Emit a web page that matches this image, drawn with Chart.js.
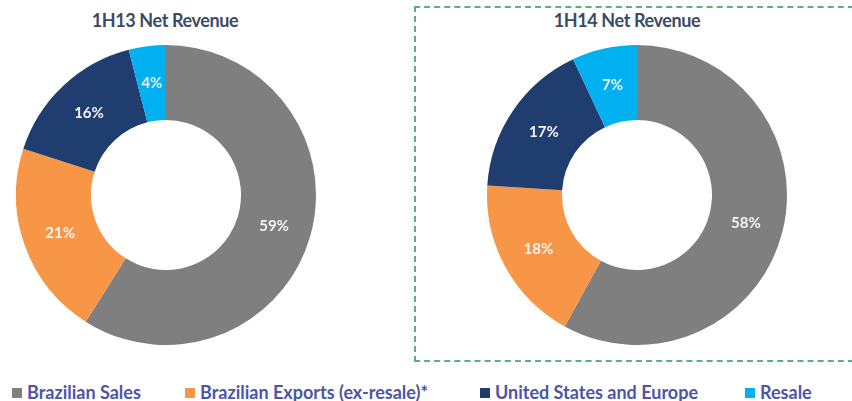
<!DOCTYPE html>
<html>
<head>
<meta charset="utf-8">
<script src="https://cdn.jsdelivr.net/npm/chart.js@4/dist/chart.umd.min.js"></script>
<style>
  html, body { margin:0; padding:0; background:#fff; width:852px; height:401px; overflow:hidden; font-family: Lato, "Open Sans", sans-serif; }
  .wrap { position:absolute; }
  .title { position:absolute; top:9px; font-weight:bold; font-size:18px; line-height:22px; color:#3d4a63; text-align:center; width:300px; letter-spacing:-0.4px; }
  #box { position:absolute; left:414px; top:6px; width:450px; height:356px; border:2px dashed #5cb07e; box-sizing:border-box; }
  #legend { position:absolute; top:382px; left:0; width:852px; height:20px; font-size:18px; font-weight:bold; color:#4c55a6; }
  .item { position:absolute; top:0; white-space:nowrap; line-height:20px; }
  .sw { display:inline-block; width:10px; height:10px; margin-right:5px; vertical-align:1px; }
</style>
</head>
<body>
<div id="box"></div>
<div class="title" id="t1" style="left:15px;"></div>
<div class="title" id="t2" style="left:477px;"></div>
<div class="wrap" style="left:16px; top:45px; width:300px; height:300px;"><canvas id="c1"></canvas></div>
<div class="wrap" style="left:487px; top:45px; width:300px; height:300px;"><canvas id="c2"></canvas></div>
<div id="legend"></div>
<script>
const categories = ["Brazilian Sales", "Brazilian Exports (ex-resale)*", "United States and Europe", "Resale"];
const titles = ["1H13 Net Revenue", "1H14 Net Revenue"];
const values1H13 = [59, 21, 16, 4];
const values1H14 = [58, 18, 17, 7];
const colors = ["#7f7f7f", "#f79646", "#1f3d6e", "#00b0f0"];
const legendX = [12, 185, 480, 745];

document.getElementById('t1').textContent = titles[0];
document.getElementById('t2').textContent = titles[1];

const labelPlugin = {
  id: 'sliceLabels',
  afterDatasetsDraw(chart) {
    const ctx = chart.ctx;
    const meta = chart.getDatasetMeta(0);
    const data = chart.data.datasets[0].data;
    ctx.save();
    ctx.fillStyle = '#f4f4f4';
    ctx.font = 'bold 15px Lato, "Open Sans", sans-serif';
    ctx.textAlign = 'center';
    ctx.textBaseline = 'middle';
    meta.data.forEach((arc, i) => {
      const p = arc.getCenterPoint();
      ctx.fillText(data[i] + '%', p.x, p.y);
    });
    ctx.restore();
  }
};

function makeChart(id, values) {
  return new Chart(document.getElementById(id), {
    type: 'doughnut',
    data: {
      labels: categories,
      datasets: [{ data: values, backgroundColor: colors, borderWidth: 0 }]
    },
    options: {
      responsive: true,
      maintainAspectRatio: false,
      animation: false,
      cutout: '50%',
      layout: { padding: 0 },
      plugins: { legend: { display: false }, tooltip: { enabled: false } }
    },
    plugins: [labelPlugin]
  });
}
makeChart('c1', values1H13);
makeChart('c2', values1H14);

const lg = document.getElementById('legend');
categories.forEach((c, i) => {
  const d = document.createElement('div');
  d.className = 'item';
  d.style.left = legendX[i] + 'px';
  const s = document.createElement('span');
  s.className = 'sw';
  s.style.background = colors[i];
  d.appendChild(s);
  d.appendChild(document.createTextNode(c));
  lg.appendChild(d);
});
</script>
</body>
</html>
